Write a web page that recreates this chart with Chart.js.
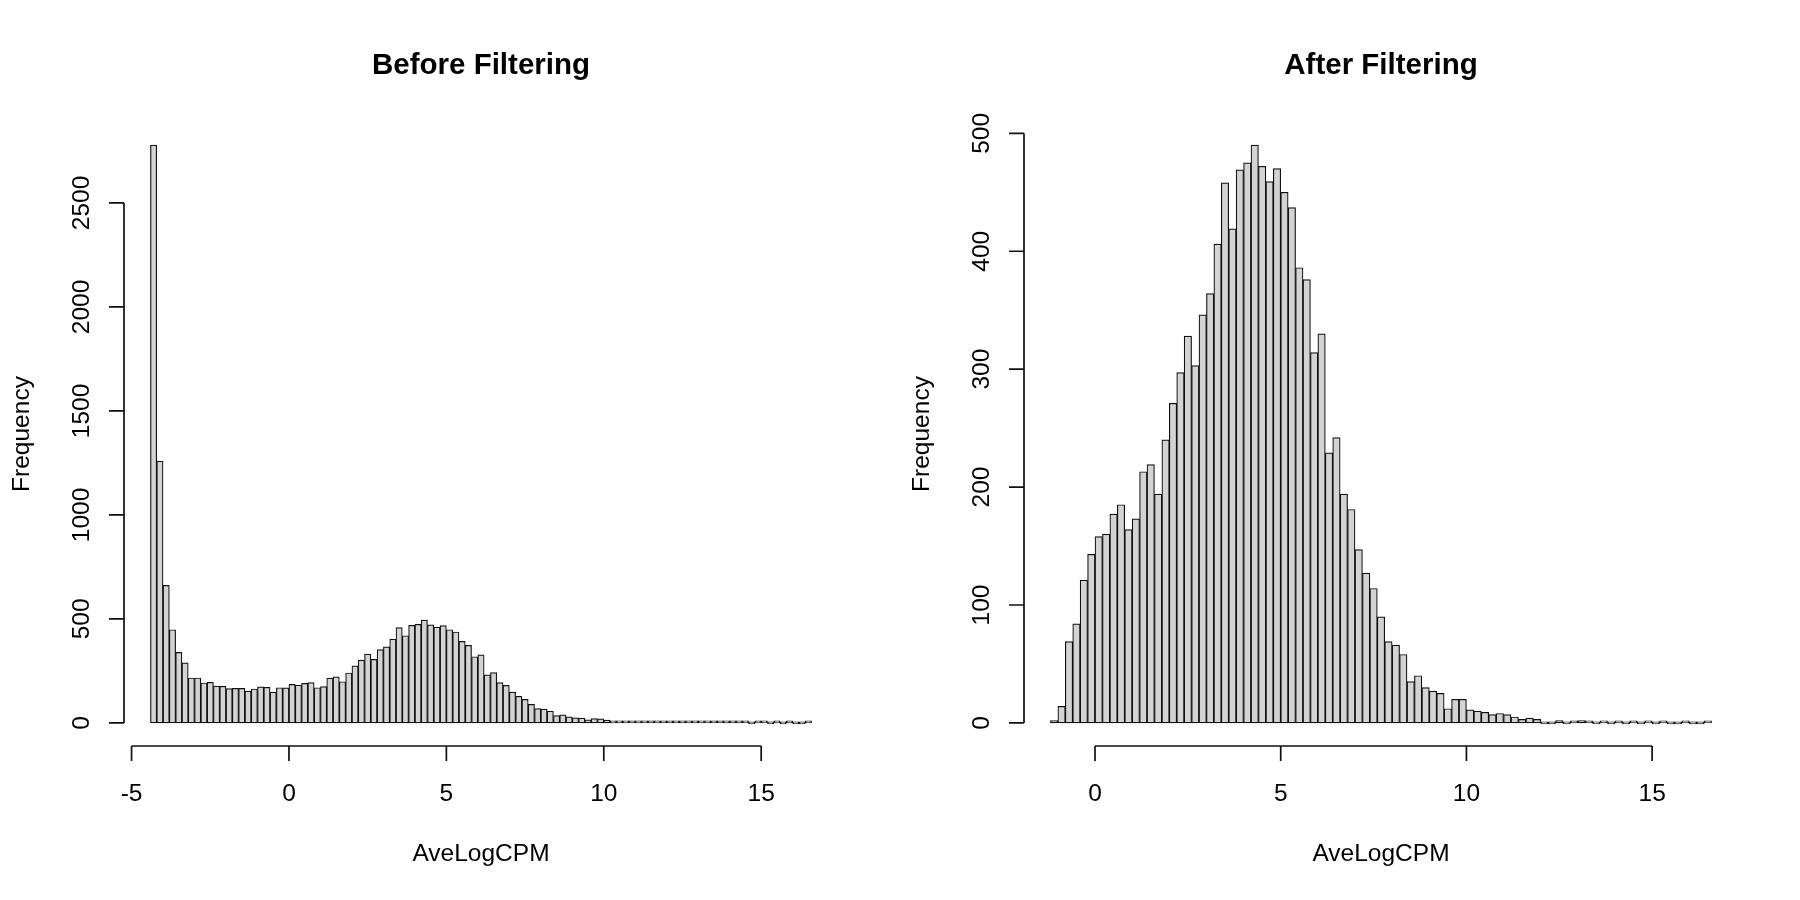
<!DOCTYPE html>
<html>
<head>
<meta charset="utf-8">
<script src="https://cdn.jsdelivr.net/npm/chart.js@4.4.1/dist/chart.umd.min.js"></script>
<style>
  html, body { margin: 0; padding: 0; background: #fff; }
  #wrap { position: relative; width: 1800px; height: 900px; }
  canvas { position: absolute; top: 0; }
</style>
</head>
<body>
<div id="wrap">
  <canvas id="before" width="900" height="900" style="left:0"></canvas>
  <canvas id="after" width="900" height="900" style="left:900px"></canvas>
</div>
<script>
// AveLogCPM histograms, every bin is 0.2 wide
const binWidth = 0.2;

const beforeStart = -4.4;
const beforeCounts = [
  2778, 1258, 661, 448, 339, 289, 216, 216, 192, 195,
  177, 176, 165, 166, 166, 153, 163, 173, 171, 148,
  169, 168, 185, 181, 190, 194, 169, 174, 215, 221,
  198, 240, 274, 302, 331, 305, 352, 366, 403, 458,
  419, 469, 474, 494, 471, 461, 468, 448, 437, 392,
  373, 318, 327, 231, 242, 194, 180, 148, 128, 113,
  89, 69, 66, 56, 35, 39, 29, 24, 23, 15,
  21, 19, 13, 10, 10, 8, 10, 8, 6, 5,
  5, 5, 3, 2, 3, 1, 2, 3, 1, 1,
  2, 1, 1, 1, 1, 0, 1, 1, 0, 1,
  0, 1, 0, 0, 1
];

const afterStart = -1.2;
const afterCounts = [
  2, 14, 69, 84, 121, 143, 158, 160, 177, 185,
  164, 173, 213, 219, 194, 240, 271, 297, 328, 303,
  346, 364, 406, 458, 419, 469, 475, 490, 472, 459,
  470, 450, 437, 386, 376, 314, 330, 229, 242, 194,
  181, 147, 127, 114, 90, 69, 66, 58, 35, 40,
  30, 27, 25, 12, 20, 20, 11, 10, 9, 7,
  8, 7, 5, 3, 4, 3, 0, 0, 2, 0,
  1, 2, 1, 0, 1, 0, 1, 0, 1, 0,
  1, 0, 1, 0, 0, 1, 0, 0, 1
];

const beforeXTicks = [-5, 0, 5, 10, 15];
const beforeYTicks = [0, 500, 1000, 1500, 2000, 2500];
const afterXTicks = [0, 5, 10, 15];
const afterYTicks = [0, 100, 200, 300, 400, 500];

const FONT = '"Liberation Sans", Arial, Helvetica, sans-serif';

// base R style axes: detached lines spanning first..last tick, outward ticks
const rAxes = {
  id: "rAxes",
  afterDraw(chart, args, opts) {
    const { ctx, chartArea: area, scales } = chart;
    const xs = scales.x, ys = scales.y;
    ctx.save();
    ctx.strokeStyle = "#111";
    ctx.fillStyle = "#000";
    ctx.lineWidth = 1.7;

    const bottom = area.bottom, left = area.left;
    ctx.beginPath();
    ctx.moveTo(xs.getPixelForValue(opts.xTicks[0]), bottom);
    ctx.lineTo(xs.getPixelForValue(opts.xTicks[opts.xTicks.length - 1]), bottom);
    opts.xTicks.forEach((t) => {
      const px = xs.getPixelForValue(t);
      ctx.moveTo(px, bottom);
      ctx.lineTo(px, bottom + 15);
    });
    ctx.moveTo(left, ys.getPixelForValue(opts.yTicks[0]));
    ctx.lineTo(left, ys.getPixelForValue(opts.yTicks[opts.yTicks.length - 1]));
    opts.yTicks.forEach((t) => {
      const py = ys.getPixelForValue(t);
      ctx.moveTo(left, py);
      ctx.lineTo(left - 15, py);
    });
    ctx.stroke();

    ctx.font = "24.5px " + FONT;
    ctx.textAlign = "center";
    ctx.textBaseline = "alphabetic";
    opts.xTicks.forEach((t) => {
      ctx.fillText(String(t), xs.getPixelForValue(t), bottom + 55);
    });
    opts.yTicks.forEach((t) => {
      ctx.save();
      ctx.translate(left - 35, ys.getPixelForValue(t));
      ctx.rotate(-Math.PI / 2);
      ctx.fillText(String(t), 0, 0);
      ctx.restore();
    });

    const cx = (area.left + area.right) / 2;
    const cy = (area.top + area.bottom) / 2;
    ctx.fillText(opts.xLabel, cx, bottom + 115);
    ctx.save();
    ctx.translate(left - 95, cy);
    ctx.rotate(-Math.PI / 2);
    ctx.fillText(opts.yLabel, 0, 0);
    ctx.restore();

    ctx.font = "bold 29.5px " + FONT;
    ctx.fillText(opts.title, cx, area.top - 48);
    ctx.restore();
  }
};

function makeHist(id, start, counts, xTicks, yTicks, title) {
  const points = counts.map((c, i) => ({ x: start + (i + 0.5) * binWidth, y: c }));
  // R pads the plotting range by 4% on every side
  const lo = start, hi = start + counts.length * binWidth;
  const padX = (hi - lo) * 0.04;
  const ymax = Math.max(...counts);
  const padY = ymax * 0.04;

  new Chart(document.getElementById(id).getContext("2d"), {
    type: "bar",
    data: {
      datasets: [{
        data: points,
        backgroundColor: "#d3d3d3",
        borderColor: "#111",
        borderWidth: 1.2,
        borderSkipped: false,
        minBarLength: 2,
        barPercentage: 1,
        categoryPercentage: 1
      }]
    },
    options: {
      responsive: false,
      animation: false,
      devicePixelRatio: 1,
      events: [],
      layout: { padding: { left: 124, right: 62, top: 122, bottom: 154 } },
      scales: {
        x: { type: "linear", display: false, offset: false, min: lo - padX, max: hi + padX },
        y: { type: "linear", display: false, min: -padY, max: ymax + padY }
      },
      plugins: {
        legend: { display: false },
        tooltip: { enabled: false },
        rAxes: { xTicks, yTicks, title, xLabel: "AveLogCPM", yLabel: "Frequency" }
      }
    },
    plugins: [rAxes]
  });
}

makeHist("before", beforeStart, beforeCounts, beforeXTicks, beforeYTicks, "Before Filtering");
makeHist("after", afterStart, afterCounts, afterXTicks, afterYTicks, "After Filtering");
</script>
</body>
</html>
